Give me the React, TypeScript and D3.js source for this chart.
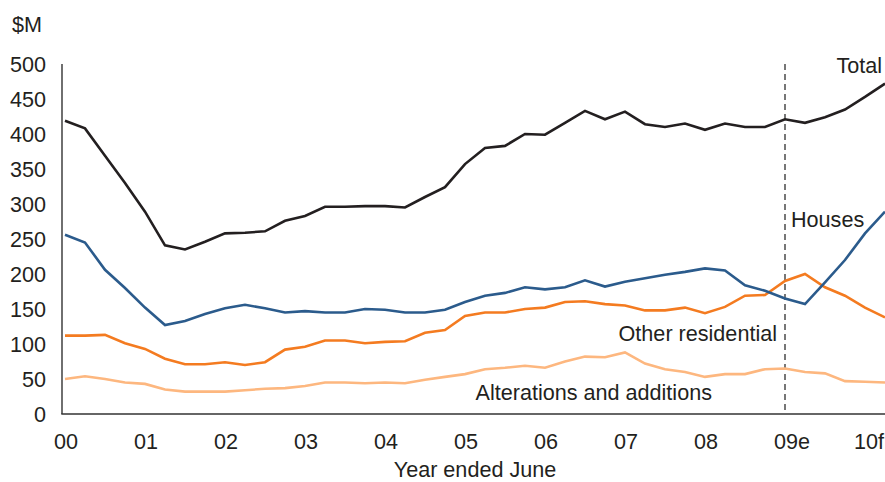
import React from "react";
import * as d3 from "d3";

const yearLabels = ["00", "01", "02", "03", "04", "05", "06", "07", "08", "09", "10"];
const yearSuffix = ["", "", "", "", "", "", "", "", "", "e", "f"];
const yTicks = [0, 50, 100, 150, 200, 250, 300, 350, 400, 450, 500];

const total = [419, 408, 369, 330, 289, 241, 235, 246, 258, 259, 261, 276, 283, 296, 296, 297, 297, 295, 310, 324, 357, 380, 383, 400, 399, 416, 433, 421, 432, 414, 410, 415, 406, 415, 410, 410, 421, 416, 424, 435, 453, 472];
const houses = [256, 245, 206, 180, 152, 127, 133, 143, 151, 156, 151, 145, 147, 145, 145, 150, 149, 145, 145, 149, 160, 169, 173, 181, 178, 181, 191, 182, 189, 194, 199, 203, 208, 205, 184, 176, 165, 157, 188, 220, 258, 289];
const otherResidential = [112, 112, 113, 101, 93, 79, 71, 71, 74, 70, 74, 92, 96, 105, 105, 101, 103, 104, 116, 120, 140, 145, 145, 150, 152, 160, 161, 157, 155, 148, 148, 152, 144, 153, 169, 170, 190, 200, 181, 169, 152, 138];
const alterations = [50, 54, 50, 45, 43, 35, 32, 32, 32, 34, 36, 37, 40, 45, 45, 44, 45, 44, 49, 53, 57, 64, 66, 69, 66, 75, 82, 81, 88, 72, 64, 60, 53, 57, 57, 64, 65, 60, 58, 47, 46, 45];
const forecastStartIndex = 36;

const W = 885;
const H = 482;
const FONT = "'Liberation Sans', Arial, Helvetica, sans-serif";
const FS = 21.6;

export default function App() {
  const x = d3.scaleLinear().domain([0, 41]).range([65, 885]);
  const y = d3.scaleLinear().domain([0, 500]).range([414, 64]);
  const line = d3
    .line<number>()
    .x((_, i) => x(i))
    .y((d) => y(d));

  const series = [
    { data: alterations, color: "#fdb77f" },
    { data: otherResidential, color: "#f47b20" },
    { data: houses, color: "#2b5b8c" },
    { data: total, color: "#231f20" },
  ];

  const digitW = 0.556 * FS;

  return (
    <svg
      width={W}
      height={H}
      style={{ position: "absolute", left: 0, top: 0, display: "block", background: "#fff" }}
      fontFamily={FONT}
    >
      <text x={12} y={32} fontSize={FS} fill="#231f20">$M</text>
      {yTicks.map((t) => (
        <text key={t} x={46} y={y(t) + 7.5} fontSize={FS} textAnchor="end" fill="#231f20">
          {t}
        </text>
      ))}
      {yearLabels.map((lab, k) => (
        <text
          key={lab}
          x={x(k * 4) - digitW + 1}
          y={449}
          fontSize={FS}
          fill="#231f20"
        >
          {lab + yearSuffix[k]}
        </text>
      ))}
      <text x={475} y={477} fontSize={FS} textAnchor="middle" fill="#231f20">
        Year ended June
      </text>

      <line
        x1={x(forecastStartIndex)}
        x2={x(forecastStartIndex)}
        y1={y(500)}
        y2={y(0)}
        stroke="#555"
        strokeWidth={1.6}
        strokeDasharray="6,4"
      />

      {series.map((s, i) => (
        <path
          key={i}
          d={line(s.data) || ""}
          fill="none"
          stroke={s.color}
          strokeWidth={2.6}
          strokeLinejoin="miter"
        />
      ))}

      <line x1={62} x2={62} y1={y(500)} y2={y(0)} stroke="#333" strokeWidth={1.4} />
      <line x1={61.3} x2={885} y1={y(0)} y2={y(0)} stroke="#333" strokeWidth={1.4} />

      <text x={882} y={73} fontSize={FS} textAnchor="end" fill="#231f20">Total</text>
      <text x={791} y={227} fontSize={FS} fill="#231f20">Houses</text>
      <text x={777} y={341} fontSize={FS} textAnchor="end" fill="#231f20">Other residential</text>
      <text x={712} y={400} fontSize={FS} textAnchor="end" fill="#231f20">Alterations and additions</text>
    </svg>
  );
}
